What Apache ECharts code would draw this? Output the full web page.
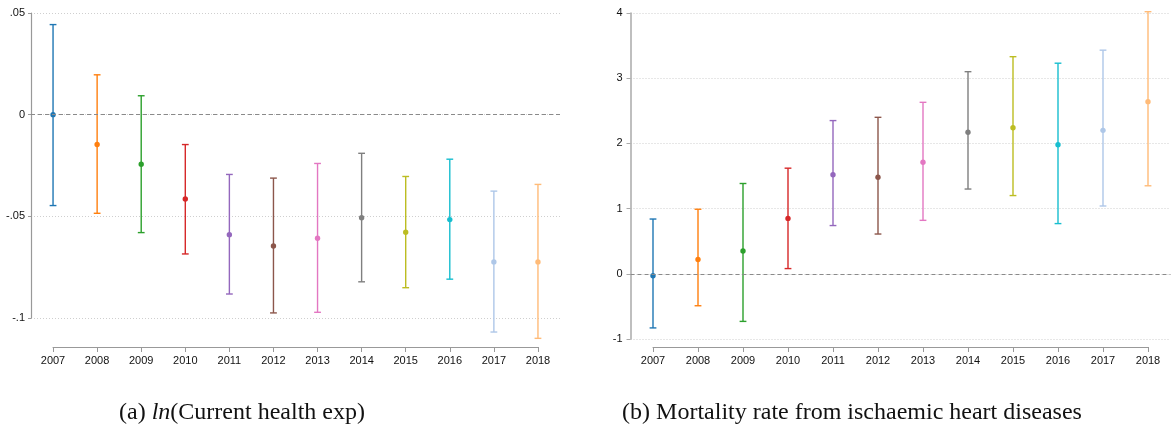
<!DOCTYPE html>
<html>
<head>
<meta charset="utf-8">
<script src="https://cdn.jsdelivr.net/npm/echarts@6/dist/echarts.min.js"></script>
<style>
html,body{margin:0;padding:0;background:#fff;}
#chart{width:1172px;height:427px;}
</style>
</head>
<body>
<div id="chart"></div>
<script>
// ---------- data ----------
const years = ['2007','2008','2009','2010','2011','2012','2013','2014','2015','2016','2017','2018'];
const colors = ['#1f77b4','#ff7f0e','#2ca02c','#d62728','#9467bd','#8c564b','#e377c2','#7f7f7f','#bcbd22','#17becf','#aec7e8','#ffbb78'];

// (a) ln(Current health exp)
const healthCoef = [0.0000, -0.0147, -0.0244, -0.0415, -0.0590, -0.0646, -0.0608, -0.0507, -0.0578, -0.0516, -0.0724, -0.0724];
const healthLow  = [-0.0447, -0.0485, -0.0580, -0.0685, -0.0882, -0.0975, -0.0972, -0.0822, -0.0851, -0.0809, -0.1069, -0.1100];
const healthHigh = [0.0443, 0.0196, 0.0093, -0.0147, -0.0294, -0.0312, -0.0240, -0.0190, -0.0304, -0.0219, -0.0376, -0.0343];
const healthTickLabels = ['-.1', '-.05', '0', '.05'];

// (b) Mortality rate from ischaemic heart diseases
const mortCoef = [-0.03, 0.22, 0.35, 0.85, 1.52, 1.48, 1.71, 2.17, 2.24, 1.98, 2.20, 2.64];
const mortLow  = [-0.83, -0.49, -0.73, 0.08, 0.74, 0.61, 0.82, 1.30, 1.20, 0.77, 1.04, 1.35];
const mortHigh = [0.84, 0.99, 1.385, 1.62, 2.35, 2.40, 2.63, 3.10, 3.33, 3.23, 3.43, 4.02];
const mortTickLabels = ['-1', '0', '1', '2', '3', '4'];

// ---------- build ----------
function rows(lo, hi, coef) {
  return years.map((y, i) => [i, lo[i], hi[i], coef[i]]);
}
function renderErr(params, api) {
  const i = params.dataIndex;
  const x = api.value(0);
  const lo = api.coord([x, api.value(1)]);
  const hi = api.coord([x, api.value(2)]);
  const mid = api.coord([x, api.value(3)]);
  const c = colors[i];
  const cap = 3.4;
  const ls = { stroke: c, lineWidth: 1.4 };
  return {
    type: 'group',
    children: [
      { type: 'line', shape: { x1: lo[0], y1: lo[1], x2: hi[0], y2: hi[1] }, style: ls },
      { type: 'line', shape: { x1: hi[0] - cap, y1: hi[1], x2: hi[0] + cap, y2: hi[1] }, style: ls },
      { type: 'line', shape: { x1: lo[0] - cap, y1: lo[1], x2: lo[0] + cap, y2: lo[1] }, style: ls },
      { type: 'circle', shape: { cx: mid[0], cy: mid[1], r: 2.7 }, style: { fill: c } }
    ]
  };
}

const labelFont = { fontFamily: 'Liberation Sans, Arial, sans-serif', fontSize: 11, color: '#111' };
const capFont = 'Liberation Serif, Times New Roman, serif';

const chart = echarts.init(document.getElementById('chart'), null, { renderer: 'canvas' });

const option = {
  animation: false,
  backgroundColor: '#fff',
  grid: [
    { left: 31, top: 13, width: 529, height: 305 },          // a: data
    { left: 53, top: 346, width: 485, height: 1 },           // a: x axis display
    { left: 630.5, top: 13, width: 540, height: 326 },       // b: data
    { left: 653, top: 346, width: 495, height: 1 }           // b: x axis display
  ],
  xAxis: [
    { gridIndex: 0, type: 'category', data: years, boundaryGap: true, show: false },
    { gridIndex: 1, type: 'category', data: years, boundaryGap: false,
      axisLine: { show: true, lineStyle: { color: '#999', width: 1 } },
      axisTick: { show: true, length: 5, alignWithLabel: true, lineStyle: { color: '#999' } },
      axisLabel: Object.assign({ margin: 8, interval: 0 }, labelFont),
      splitLine: { show: false } },
    { gridIndex: 2, type: 'category', data: years, boundaryGap: true, show: false },
    { gridIndex: 3, type: 'category', data: years, boundaryGap: false,
      axisLine: { show: true, lineStyle: { color: '#999', width: 1 } },
      axisTick: { show: true, length: 5, alignWithLabel: true, lineStyle: { color: '#999' } },
      axisLabel: Object.assign({ margin: 8, interval: 0 }, labelFont),
      splitLine: { show: false } }
  ],
  yAxis: [
    { gridIndex: 0, type: 'value', min: -0.1, max: 0.05, interval: 0.05,
      axisLine: { show: true, lineStyle: { color: '#999', width: 1.2 } },
      axisTick: { show: true, length: 3, lineStyle: { color: '#999' } },
      axisLabel: Object.assign({ margin: 6, formatter: (v, idx) => healthTickLabels[idx] }, labelFont),
      splitLine: { show: true, lineStyle: { color: '#cfcfcf', type: [1, 2], width: 1 } } },
    { gridIndex: 1, type: 'value', show: false, min: 0, max: 1 },
    { gridIndex: 2, type: 'value', min: -1, max: 4, interval: 1,
      axisLine: { show: true, lineStyle: { color: '#aaa', width: 1.5 } },
      axisTick: { show: true, length: 4, lineStyle: { color: '#aaa' } },
      axisLabel: Object.assign({ margin: 8, formatter: (v, idx) => mortTickLabels[idx] }, labelFont),
      splitLine: { show: true, lineStyle: { color: '#cfcfcf', type: [1, 2], width: 1 } } },
    { gridIndex: 3, type: 'value', show: false, min: 0, max: 1 }
  ],
  series: [
    { type: 'custom', xAxisIndex: 0, yAxisIndex: 0, clip: false,
      renderItem: renderErr, encode: { x: 0, y: [1, 2, 3] },
      data: rows(healthLow, healthHigh, healthCoef),
      markLine: { silent: true, symbol: 'none', label: { show: false },
        lineStyle: { color: '#8a8a8a', type: [4, 3], width: 1 }, data: [{ yAxis: 0 }] },
      z: 3 },
    { type: 'custom', xAxisIndex: 2, yAxisIndex: 2, clip: false,
      renderItem: renderErr, encode: { x: 0, y: [1, 2, 3] },
      data: rows(mortLow, mortHigh, mortCoef),
      markLine: { silent: true, symbol: 'none', label: { show: false },
        lineStyle: { color: '#8a8a8a', type: [4, 3], width: 1 }, data: [{ yAxis: 0 }] },
      z: 3 }
  ],
  graphic: [
    { type: 'text', x: 242, y: 413, style: {
        text: '(a) {i|ln}(Current health exp)',
        fontFamily: capFont, fontSize: 24, fill: '#111',
        textAlign: 'center', textVerticalAlign: 'middle',
        rich: { i: { fontStyle: 'italic', fontFamily: capFont, fontSize: 24, fill: '#111' } } } },
    { type: 'text', x: 852, y: 413, style: {
        text: '(b) Mortality rate from ischaemic heart diseases',
        fontFamily: capFont, fontSize: 24, fill: '#111',
        textAlign: 'center', textVerticalAlign: 'middle' } }
  ]
};
chart.setOption(option);
</script>
</body>
</html>
